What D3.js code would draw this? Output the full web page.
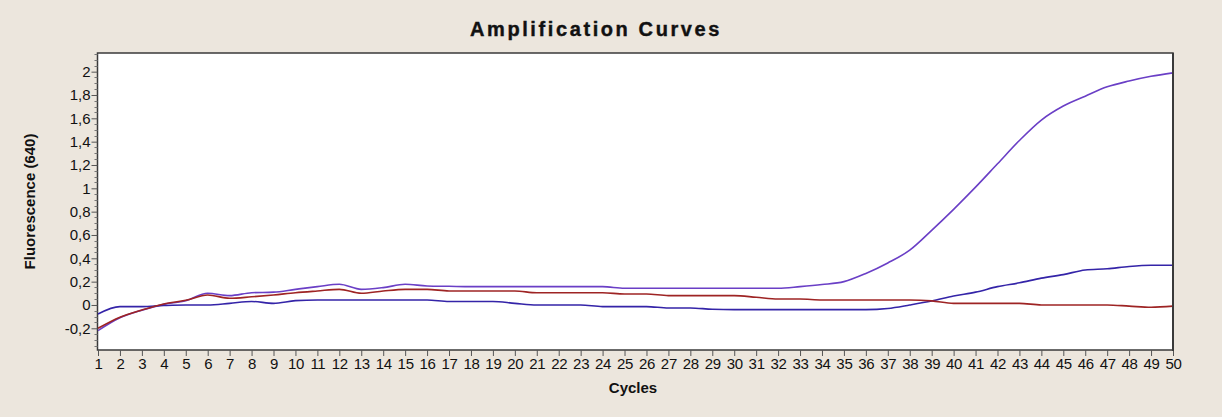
<!DOCTYPE html>
<html>
<head>
<meta charset="utf-8">
<script src="https://cdn.jsdelivr.net/npm/d3@7"></script>
<style>
  html, body { margin: 0; padding: 0; background: #ECE6DD; }
  svg { display: block; }
</style>
</head>
<body>
<svg id="chart" width="1222" height="417"></svg>
<script>
const cycles = [1,2,3,4,5,6,7,8,9,10,11,12,13,14,15,16,17,18,19,20,21,22,23,24,25,26,27,28,29,30,31,32,33,34,35,36,37,38,39,40,41,42,43,44,45,46,47,48,49,50];

const sampleA = [-0.22,-0.11,-0.045,0.005,0.037,0.10,0.08,0.105,0.11,0.134,0.157,0.177,0.134,0.149,0.177,0.163,0.160,0.157,0.157,0.157,0.157,0.157,0.157,0.157,0.143,0.143,0.143,0.143,0.143,0.143,0.143,0.143,0.157,0.175,0.20,0.27,0.36,0.47,0.64,0.82,1.01,1.21,1.41,1.585,1.705,1.79,1.87,1.92,1.96,1.99];

const sampleB = [-0.077,-0.014,-0.014,-0.005,0.0,0.0,0.014,0.03,0.014,0.037,0.043,0.043,0.043,0.043,0.043,0.043,0.03,0.03,0.03,0.014,0.0,0.0,0.0,-0.014,-0.014,-0.014,-0.026,-0.026,-0.037,-0.04,-0.04,-0.04,-0.04,-0.04,-0.04,-0.04,-0.03,0.0,0.034,0.077,0.11,0.157,0.19,0.23,0.26,0.30,0.31,0.33,0.34,0.34];

const sampleC = [-0.20,-0.105,-0.043,0.009,0.04,0.086,0.057,0.07,0.086,0.105,0.12,0.134,0.10,0.12,0.134,0.134,0.12,0.12,0.12,0.12,0.105,0.105,0.105,0.105,0.094,0.094,0.08,0.08,0.08,0.08,0.066,0.051,0.051,0.043,0.043,0.043,0.043,0.043,0.035,0.014,0.014,0.014,0.014,0.0,0.0,0.0,0.0,-0.01,-0.02,-0.01];

const yMajorTicks = [-0.2,0,0.2,0.4,0.6,0.8,1,1.2,1.4,1.6,1.8,2];

const title = "Amplification Curves";
const xTitle = "Cycles";
const yTitle = "Fluorescence (640)";

(function () {
const svg = d3.select("#chart");
const pL = 97.5, pR = 1173, pT = 53, pB = 350;

const x = d3.scaleLinear().domain([1, 50]).range([pL + 0.5, pR]);
const y = d3.scaleLinear().domain([-0.386, 2.16]).range([pB, pT]);

svg.append("rect")
  .attr("x", pL).attr("y", pT)
  .attr("width", pR - pL).attr("height", pB - pT)
  .attr("fill", "#ffffff")
  .attr("stroke", "#3a3a3a").attr("stroke-width", 1.5);

const fmt = v => String(+v.toFixed(1)).replace(".", ",");
const tickFont = "'Liberation Sans', Arial, sans-serif";

const yAxis = d3.axisLeft(y).tickValues(yMajorTicks).tickFormat(fmt).tickSize(6).tickPadding(1);
const gy = svg.append("g").attr("transform", `translate(${pL},0)`).call(yAxis);
gy.select(".domain").remove();
gy.selectAll("line").attr("stroke", "#555");
gy.selectAll("text").attr("font-family", tickFont).attr("font-size", 15).attr("fill", "#111");

const minor = d3.range(-35, 216, 5).map(v => v / 100).filter(v => Math.abs(Math.round(v * 5) - v * 5) > 1e-6);
svg.append("g").selectAll("line").data(minor).join("line")
  .attr("x1", pL - 3).attr("x2", pL)
  .attr("y1", d => Math.round(y(d)) + 0.5).attr("y2", d => Math.round(y(d)) + 0.5)
  .attr("stroke", "#777").attr("stroke-width", 1);

const xAxis = d3.axisBottom(x).tickValues(cycles).tickFormat(d3.format("d")).tickSize(6).tickPadding(2);
const gx = svg.append("g").attr("transform", `translate(0,${pB})`).call(xAxis);
gx.select(".domain").remove();
gx.selectAll("line").attr("stroke", "#555");
gx.selectAll("text").attr("font-family", tickFont).attr("font-size", 15).attr("letter-spacing", -0.3).attr("fill", "#111");

const line = d3.line().x((d, i) => x(cycles[i])).y(d => y(d)).curve(d3.curveMonotoneX);
const series = [
  { values: sampleA, color: "#6A3FC6" },
  { values: sampleB, color: "#3424A8" },
  { values: sampleC, color: "#9E2424" }
];
svg.append("clipPath").attr("id", "clip").append("rect")
  .attr("x", pL).attr("y", pT).attr("width", pR - pL).attr("height", pB - pT);
svg.append("g").attr("clip-path", "url(#clip)").selectAll("path").data(series).join("path")
  .attr("d", d => line(d.values))
  .attr("fill", "none")
  .attr("stroke", d => d.color)
  .attr("stroke-width", 1.6);

svg.append("line").attr("x1", pR).attr("x2", pR).attr("y1", pT).attr("y2", pB + 1)
  .attr("stroke", "#3a3a3a").attr("stroke-width", 2);

svg.append("text").attr("x", 596).attr("y", 36).attr("text-anchor", "middle")
  .attr("font-family", "'Liberation Sans', Arial, sans-serif").attr("font-weight", "bold")
  .attr("font-size", 20).attr("letter-spacing", 2.6).attr("fill", "#111")
  .attr("stroke", "#111").attr("stroke-width", 0.4).text(title);

svg.append("text").attr("x", 633).attr("y", 393).attr("text-anchor", "middle")
  .attr("font-family", "'Liberation Sans', Arial, sans-serif").attr("font-weight", "bold")
  .attr("font-size", 15).attr("fill", "#111").text(xTitle);

svg.append("text").attr("transform", `translate(35,${(pT + pB) / 2}) rotate(-90)`)
  .attr("text-anchor", "middle")
  .attr("font-family", "'Liberation Sans', Arial, sans-serif").attr("font-weight", "bold")
  .attr("font-size", 15).attr("fill", "#111").text(yTitle);
})();
</script>
</body>
</html>
